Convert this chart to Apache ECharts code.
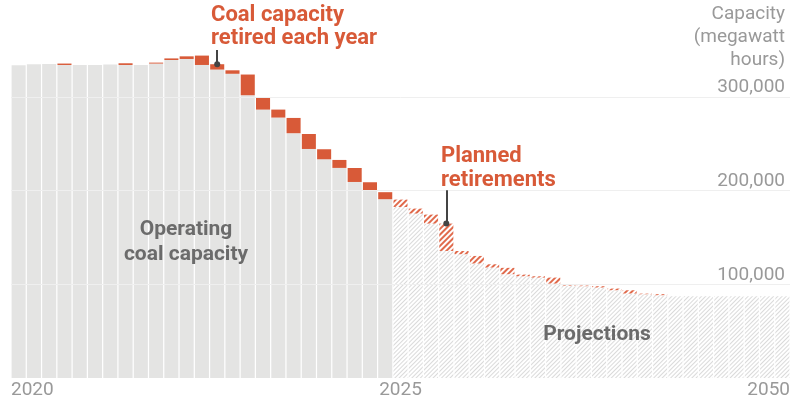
<!DOCTYPE html>
<html><head><meta charset="utf-8">
<script src="https://cdn.jsdelivr.net/npm/echarts@6/dist/echarts.min.js"></script>
<style>html,body{margin:0;padding:0;background:#fff}#c{width:800px;height:400px}</style>
</head><body><div id="c"></div>
<script>
// ---- data ----
const categories = ['2000','2001','2002','2003','2004','2005','2006','2007','2008','2009',
  '2010','2011','2012','2013','2014','2015','2016','2017','2018','2019',
  '2020','2021','2022','2023','2024','2025','2026','2027','2028','2029',
  '2030','2031','2032','2033','2034','2035','2036','2037','2038','2039',
  '2040','2041','2042','2043','2044','2045','2046','2047','2048','2049','2050'];
// historical (first 25 bars)
const operating = [333600,334700,335000,333900,333900,333900,334300,333900,333900,335400,
  339200,340300,333900,329000,324500,301600,286300,277800,261100,244300,
  233300,224100,209100,200300,190700];
const retired = [0,0,0,1500,0,0,0,1800,0,1000,
  1700,2800,10000,5700,3700,22100,13400,8500,16300,16000,
  10700,8500,14900,8500,7500];
// projections (last 26 bars)
const projected = [182400,175400,164700,135500,132000,122100,117800,110700,108500,107100,
  100700,98600,97900,96500,93600,90100,89300,88300,87200,87200,
  87200,87200,87200,87200,87200,87200];
const planned = [7900,5300,9600,29200,3500,8100,3500,6800,1800,1400,
  6400,1100,700,1400,1800,3500,700,1100,0,0,
  0,0,0,0,0,0];
const yTicks = [100000, 200000, 300000];
const xTickLabels = ['2020', '2025', '2050'];
const xTickPos = [0, 25.5, 51];   // in bar-edge units along the axis
const retiredNote = {index: 13, top: 349800};
const plannedNote = {index: 28, top: 200300};

// ---- build ----
const nHist = operating.length, nProj = projected.length;
const pad = n => Array(n).fill('-');
const opData = operating.concat(pad(nProj));
const retData = retired.concat(pad(nProj));
const projData = pad(nHist).concat(projected);
const planData = pad(nHist).concat(planned);

const BOLD = 'Roboto, "Liberation Sans", sans-serif';
const REG = 'Roboto, "Liberation Sans", sans-serif';
const RED = '#d85a38';
const GRAY = '#e4e4e3';

const chart = echarts.init(document.getElementById('c'), null, {renderer: 'canvas'});
const noteTop = (i, arrA, arrB) => arrA[i] + arrB[i];

chart.setOption({
  animation: false,
  backgroundColor: '#fff',
  grid: {left: 11, right: 10, top: 3, bottom: 22},
  title: [
    {text: 'Coal capacity\nretired each year', left: 211, top: 4, padding: 0,
     textStyle: {fontFamily: BOLD, fontWeight: 'bold', fontSize: 22, lineHeight: 23, color: RED}},
    {text: 'Planned\nretirements', left: 441, top: 144, padding: 0,
     textStyle: {fontFamily: BOLD, fontWeight: 'bold', fontSize: 22, lineHeight: 24, color: RED}},
    {text: 'Operating\ncoal capacity', left: 186, top: 217, padding: 0, textAlign: 'center',
     textStyle: {fontFamily: BOLD, fontWeight: 'bold', fontSize: 21, lineHeight: 25, color: '#6b6b6b'}},
    {text: 'Projections', left: 597, top: 323, padding: 0, textAlign: 'center',
     textStyle: {fontFamily: BOLD, fontWeight: 'bold', fontSize: 21, lineHeight: 24, color: '#6b6b6b'}},
    {text: 'Capacity\n(megawatt\nhours)', left: 785, top: 3, padding: 0, textAlign: 'right',
     textStyle: {fontFamily: REG, fontWeight: 'normal', fontSize: 19, lineHeight: 23, color: '#999'}}
  ],
  xAxis: [
    {type: 'category', data: categories, axisLine: {show: false}, axisTick: {show: false},
     axisLabel: {show: false}, splitLine: {show: false}},
    {type: 'value', min: 0, max: 51, position: 'bottom',
     axisLine: {show: false}, axisTick: {show: false}, splitLine: {show: false},
     axisLabel: {customValues: xTickPos, alignMinLabel: 'left', alignMaxLabel: 'right',
       showMinLabel: true, showMaxLabel: true, margin: 3,
       fontFamily: REG, fontSize: 19, color: '#999',
       formatter: v => { const k = xTickPos.indexOf(v); return k >= 0 ? xTickLabels[k] : ''; }}}
  ],
  yAxis: {type: 'value', min: 0, max: 400000, interval: 100000, position: 'right',
    axisLine: {show: false}, axisTick: {show: false}, splitLine: {show: false},
    axisLabel: {inside: true, margin: 5, verticalAlign: 'bottom', fontFamily: REG, fontSize: 19, color: '#999',
      formatter: v => yTicks.indexOf(v) >= 0 ? v.toLocaleString('en-US') : ''}},
  series: [
    {name: 'Operating', type: 'bar', stack: 'cap', data: opData, barCategoryGap: '8%',
     itemStyle: {color: GRAY}},
    {name: 'Retired', type: 'bar', stack: 'cap', data: retData,
     itemStyle: {color: RED},
     markLine: {silent: true, animation: false, label: {show: false},
       lineStyle: {color: '#444', width: 2, type: 'solid'},
       data: [[{coord: [retiredNote.index, noteTop(retiredNote.index, operating, retired)], symbol: 'circle', symbolSize: 6},
               {coord: [retiredNote.index, retiredNote.top], symbol: 'none'}]]}},
    {name: 'Projected', type: 'bar', stack: 'cap', data: projData,
     itemStyle: {color: '#fff', decal: {symbol: 'rect', symbolSize: 1, dashArrayX: [1, 0], dashArrayY: [1, 2],
       rotation: -Math.PI / 4, color: '#dadada'}}},
    {name: 'Planned', type: 'bar', stack: 'cap', data: planData,
     itemStyle: {color: '#fff', decal: {symbol: 'rect', symbolSize: 1, dashArrayX: [1, 0], dashArrayY: [1.6, 2],
       rotation: -Math.PI / 4, color: '#e06a4c'}},
     markLine: {silent: true, animation: false, label: {show: false}, symbol: 'none',
       data: yTicks.map(v => ({yAxis: v, lineStyle: {color: '#efefef', width: 1, type: 'solid'}}))}},
    {name: 'PlannedNote', type: 'line', data: [],
     markLine: {silent: true, animation: false, label: {show: false},
       lineStyle: {color: '#444', width: 2, type: 'solid'},
       data: [[{coord: [plannedNote.index, noteTop(plannedNote.index - nHist, projected, planned)], symbol: 'circle', symbolSize: 6},
               {coord: [plannedNote.index, plannedNote.top], symbol: 'none'}]]}}
  ]
});
</script>
</body></html>
